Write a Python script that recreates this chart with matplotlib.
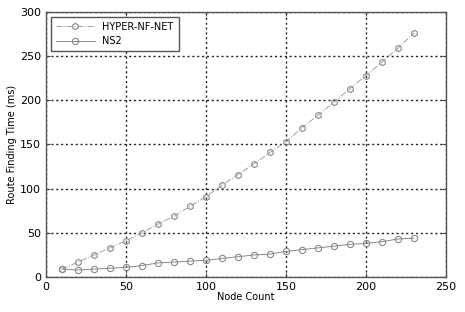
import matplotlib
matplotlib.use('Agg')
from matplotlib import pyplot as plt

# node counts on the x axis
node_count = [10, 20, 30, 40, 50, 60, 70, 80, 90, 100, 110, 120,
              130, 140, 150, 160, 170, 180, 190, 200, 210, 220, 230]

# route finding time (ms)
hyper_nf_net = [9, 17, 25, 33, 41, 50, 60, 69, 80, 91, 104, 116,
                128, 141, 153, 169, 183, 198, 213, 228, 243, 259, 276]
ns2 = [9, 8, 9, 10, 11, 13, 16, 17, 18, 19, 21, 23,
       25, 26, 29, 31, 33, 35, 37, 38, 40, 43, 44]

x_ticks = [0, 50, 100, 150, 200, 250]
y_ticks = [0, 50, 100, 150, 200, 250, 300]

fig = plt.figure(figsize=(4.65, 3.12), dpi=100)
ax = fig.add_axes([0.099, 0.112, 0.86, 0.85])

ax.plot(node_count, hyper_nf_net, color='#a0a0a0', linestyle='-.', linewidth=0.7,
        marker='h', markersize=4.5, markerfacecolor='none', markeredgecolor='#8a8a8a',
        markeredgewidth=0.8, label='HYPER-NF-NET')
ax.plot(node_count, ns2, color='#8a8a8a', linestyle='-', linewidth=0.7,
        marker='o', markersize=4.5, markerfacecolor='none', markeredgecolor='#8a8a8a',
        markeredgewidth=0.8, label='NS2')

ax.set_xlim(0, 250)
ax.set_ylim(0, 300)
ax.set_xticks(x_ticks)
ax.set_yticks(y_ticks)
ax.tick_params(labelsize=8, direction='in', length=3, color='#444444',
               top=True, right=True)
ax.grid(True, color='#222222', linestyle=(0, (1.5, 2)), linewidth=1.0)
for s in ax.spines.values():
    s.set_color('#555555')
    s.set_linewidth(1.0)

ax.set_xlabel('Node Count', fontsize=7, labelpad=0)
ax.set_ylabel('Route Finding Time (ms)', fontsize=7, labelpad=2)

leg = ax.legend(loc='upper left', fontsize=7, fancybox=False, framealpha=1,
                edgecolor='#555555', handlelength=4, borderpad=0.5)
leg.get_frame().set_linewidth(1.0)

fig.savefig('out.png', dpi=100)
